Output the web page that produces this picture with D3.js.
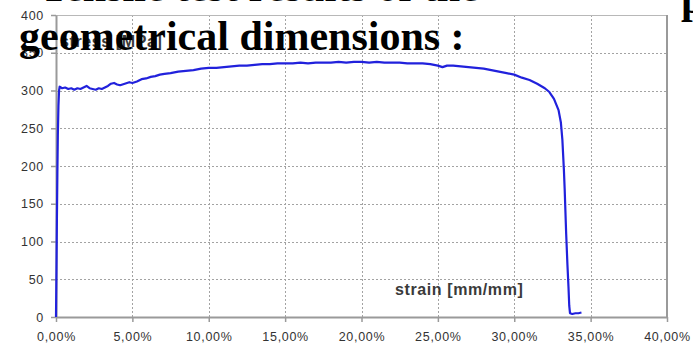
<!DOCTYPE html>
<html>
<head>
<meta charset="utf-8">
<script src="https://cdn.jsdelivr.net/npm/d3@7"></script>
<style>
  html, body { margin: 0; padding: 0; background: #fff; }
  svg { display: block; }
</style>
</head>
<body>
<svg id="chart" width="693" height="347"></svg>
<script>
// Tensile test: engineering stress versus strain
const strain = [
  0, 0.03, 0.06, 0.09, 0.12, 0.16, 0.20, 0.24, 0.4, 0.6, 0.8, 1.0, 1.2, 1.4, 1.6, 1.8,
  2.0, 2.2, 2.4, 2.6, 2.8, 3.0, 3.2, 3.4, 3.6, 3.8, 4.0, 4.2, 4.5, 4.8, 5.0, 5.3,
  5.6, 5.9, 6.2, 6.5, 6.8, 7.1, 7.5, 8.0, 8.5, 9.0, 9.5, 10.0, 10.5, 11.0, 11.5, 12.0,
  12.5, 13.0, 13.5, 14.0, 14.5, 15.0, 15.5, 16.0, 16.5, 17.0, 17.5, 18.0, 18.5, 19.0,
  19.5, 20.0, 20.5, 21.0, 21.5, 22.0, 22.5, 23.0, 23.5, 24.0, 24.5, 25.0, 25.3, 25.6,
  26.0, 26.5, 27.0, 27.5, 28.0, 28.5, 29.0, 29.5, 30.0, 30.5, 31.0, 31.5, 32.0, 32.3,
  32.6, 32.9, 33.05, 33.15, 33.25, 33.3, 33.4, 33.48, 33.55, 33.6, 33.65, 33.8, 34.0,
  34.2, 34.4
]; // percent
const stress = [
  0, 60, 130, 190, 240, 280, 300, 305, 303, 304, 302, 303, 301, 303, 302, 304,
  306, 303, 302, 301, 303, 302, 304, 306, 309, 310, 308, 307, 309, 311, 310, 312,
  315, 316, 318, 319, 321, 322, 323, 325, 326, 327, 329, 330, 330, 331, 332, 333,
  333, 334, 335, 335, 336, 336, 336, 337, 336, 337, 337, 337, 338, 337,
  338, 338, 337, 338, 337, 337, 337, 336, 336, 336, 335, 333, 331, 333,
  333, 332, 331, 330, 329, 327, 325, 323, 321, 317, 314, 309, 303, 298,
  289, 274, 258, 235, 195, 170, 110, 70, 40, 15, 5, 4, 5,
  5, 6
]; // MPa

const xTicks = [0, 0.05, 0.10, 0.15, 0.20, 0.25, 0.30, 0.35, 0.40];
const xTickLabels = ["0,00%", "5,00%", "10,00%", "15,00%", "20,00%", "25,00%", "30,00%", "35,00%", "40,00%"];
const yTicks = [0, 50, 100, 150, 200, 250, 300, 350, 400];
const yTickLabels = ["0", "50", "100", "150", "200", "250", "300", "350", "400"];

const xTitle = "strain [mm/mm]";
const yTitle = "stress [MPa]";
const headingAbove = "Tensile test results of the";
const heading = "geometrical dimensions :";

const svg = d3.select("#chart");
const plotLeft = 56, plotRight = 667, plotTop = 15, plotBottom = 317;

const x = d3.scaleLinear().domain([0, 0.4]).range([plotLeft, plotRight]);
const y = d3.scaleLinear().domain([0, 400]).range([plotBottom, plotTop]);

const gridColor = "#a3a3a3";
const axisColor = "#9a9a9a";

// dotted grid
svg.append("g").selectAll("line")
  .data(xTicks.filter(d => d > 0 && d < 0.4))
  .join("line")
  .attr("x1", d => Math.round(x(d)) + 0.5).attr("x2", d => Math.round(x(d)) + 0.5)
  .attr("y1", plotTop).attr("y2", plotBottom)
  .attr("stroke", gridColor).attr("stroke-width", 1).attr("stroke-dasharray", "2,2");

svg.append("g").selectAll("line")
  .data(yTicks.filter(d => d > 0 && d < 400))
  .join("line")
  .attr("x1", plotLeft).attr("x2", plotRight)
  .attr("y1", d => Math.round(y(d)) + 0.5).attr("y2", d => Math.round(y(d)) + 0.5)
  .attr("stroke", gridColor).attr("stroke-width", 1).attr("stroke-dasharray", "2,2");

// plot frame (top and right)
svg.append("line").attr("x1", plotLeft).attr("x2", plotRight).attr("y1", plotTop + 0.5).attr("y2", plotTop + 0.5)
  .attr("stroke", "#b8b8b8").attr("stroke-width", 1);
svg.append("line").attr("x1", plotRight).attr("x2", plotRight).attr("y1", plotTop).attr("y2", plotBottom)
  .attr("stroke", axisColor).attr("stroke-width", 2);

// axes
const xAxis = d3.axisBottom(x).tickValues(xTicks)
  .tickFormat((d, i) => xTickLabels[i]).tickSize(5).tickSizeOuter(0).tickPadding(10);
const yAxis = d3.axisLeft(y).tickValues(yTicks)
  .tickFormat((d, i) => yTickLabels[i]).tickSize(5).tickSizeOuter(0).tickPadding(7);

const gx = svg.append("g").attr("transform", `translate(0,${plotBottom})`).call(xAxis);
const gy = svg.append("g").attr("transform", `translate(${plotLeft},0)`).call(yAxis);

[gx, gy].forEach(g => {
  g.select(".domain").attr("stroke", axisColor).attr("stroke-width", 2);
  g.selectAll(".tick line").attr("stroke", axisColor).attr("stroke-width", 1.5);
  g.selectAll(".tick text")
    .attr("fill", "#333")
    .style("font-family", "'Liberation Sans', Arial, sans-serif")
    .style("font-size", "12.5px")
    .style("letter-spacing", "0.7px");
});

// stress-strain curve
const line = d3.line()
  .x((d, i) => x(strain[i] / 100))
  .y((d, i) => y(stress[i]));

svg.append("path")
  .datum(stress)
  .attr("d", line)
  .attr("fill", "none")
  .attr("stroke", "#2121dc")
  .attr("stroke-width", 2.2)
  .attr("stroke-linejoin", "round");

// axis titles
const titleStyle = sel => sel
  .attr("fill", "#3a3a3a")
  .style("font-family", "'Liberation Sans', Arial, sans-serif")
  .style("font-size", "16px")
  .style("font-weight", "bold")
  .style("letter-spacing", "0.6px");

svg.append("text").attr("x", 395).attr("y", 295).text(xTitle).call(titleStyle);
svg.append("text").attr("x", 60).attr("y", 47).text(yTitle).call(titleStyle);

// surrounding document text
const headStyle = sel => sel
  .attr("fill", "#000")
  .style("font-family", "'Liberation Serif', 'Times New Roman', serif")
  .style("font-size", "42px")
  .style("font-weight", "bold");

svg.append("text").attr("x", 40).attr("y", 0.5).text(headingAbove).call(headStyle);
svg.append("text").attr("x", 681).attr("y", 13).text("p").call(headStyle);
svg.append("text").attr("x", 19).attr("y", 50).text(heading).call(headStyle);
</script>
</body>
</html>
